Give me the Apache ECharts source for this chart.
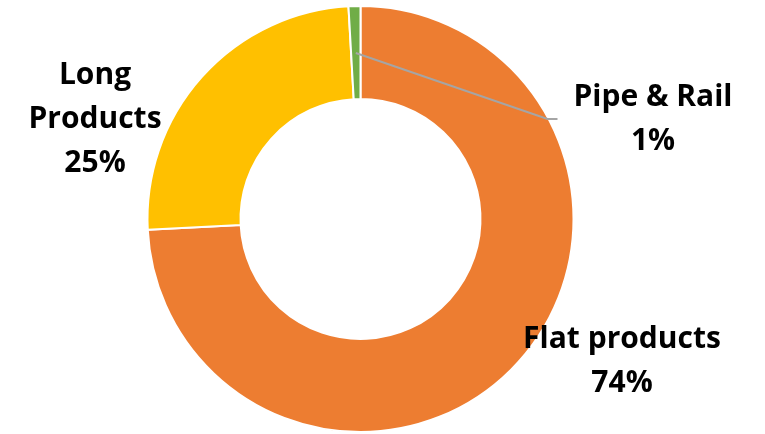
<!DOCTYPE html>
<html>
<head>
<meta charset="utf-8">
<script src="https://cdn.jsdelivr.net/npm/echarts@6/dist/echarts.min.js"></script>
<style>
  html, body { margin: 0; padding: 0; background: #fff; }
  #main { width: 765px; height: 434px; }
</style>
</head>
<body>
<div id="main"></div>
<script>
// product share (percent)
var categories = ['Flat products', 'Long\nProducts', 'Pipe & Rail'];
var shares = [74.2, 24.9, 0.9];
var colors = ['#ED7D31', '#FFC000', '#70AD47'];

// where each label sits (text block centre)
var labelSpots = [
  { x: 622, y: 361 },
  { x: 95, y: 119 },
  { x: 645, y: 119 }
];

var chart = echarts.init(document.getElementById('main'), null, { renderer: 'canvas' });

var pieData = [];
for (let i = 0; i < categories.length; i++) {
  pieData.push({ name: categories[i], value: shares[i], itemStyle: { color: colors[i] } });
}

var labelFont = {
  fontFamily: 'Open Sans',
  fontWeight: 'bold',
  fontSize: 30,
  lineHeight: 44,
  color: '#000',
  align: 'center',
  overflow: 'none'
};

function pctText(p) {
  return p.name + '\n' + Math.round(p.percent) + '%';
}

var option = {
  animation: false,
  series: [
    {
      type: 'pie',
      z: 2,
      center: [360.5, 219],
      radius: [120, 213],
      startAngle: 90,
      clockwise: true,
      itemStyle: { borderColor: '#fff', borderWidth: 2 },
      label: Object.assign({
        show: true,
        position: 'outside',
        formatter: function (p) {
          return p.dataIndex === 2 ? '' : pctText(p);
        }
      }, labelFont),
      labelLine: { show: false },
      labelLayout: function (p) {
        var s = labelSpots[p.dataIndex];
        return { x: s.x, y: s.y, align: 'center', verticalAlign: 'middle' };
      },
      data: pieData
    },
    {
      // helper ring so the leader line starts mid-ring
      type: 'pie',
      z: 5,
      silent: true,
      center: [360.5, 219],
      radius: [0, 166],
      startAngle: 90,
      clockwise: true,
      itemStyle: { color: 'rgba(0,0,0,0)' },
      emphasis: { disabled: true },
      label: Object.assign({
        show: true,
        position: 'outside',
        padding: [0, 0, 0, 16],
        formatter: function (p) {
          return p.dataIndex === 2 ? pctText(p) : '';
        }
      }, labelFont),
      labelLine: {
        show: true,
        length: 10,
        length2: 10,
        lineStyle: { color: '#A5A5A5', width: 2 }
      },
      labelLayout: function (p) {
        var s = labelSpots[p.dataIndex];
        return { x: s.x, y: s.y, align: 'center', verticalAlign: 'middle' };
      },
      data: shares.map(function (v, i) {
        return { name: categories[i], value: v, labelLine: { show: i === 2 } };
      })
    }
  ]
};

chart.setOption(option);
</script>
</body>
</html>
